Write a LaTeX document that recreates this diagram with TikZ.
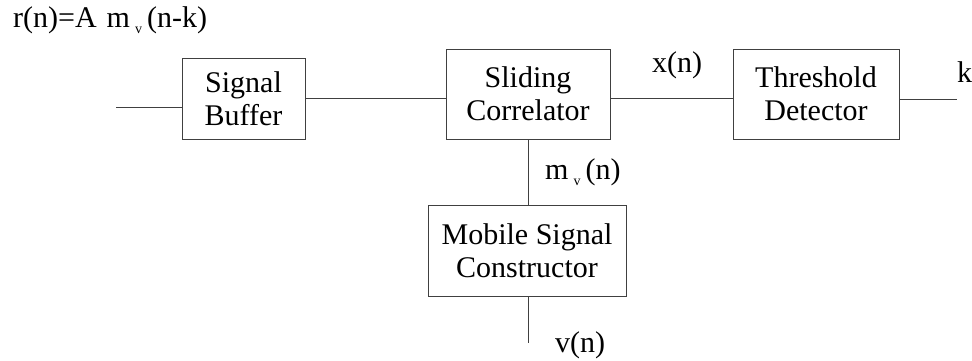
\documentclass[tikz,border=0pt]{standalone}
\usepackage{fontspec}
\setmainfont{Liberation Serif}
\newcommand{\mysubv}{\raisebox{-6pt}{\fontsize{14}{14}\selectfont v}}
\begin{document}
\begin{tikzpicture}[x=1pt,y=-1pt,
  every node/.style={font=\fontsize{30}{33}\selectfont, inner sep=0pt, text=black},
  blk/.style={draw=black!75, line width=1pt, align=center},
  wire/.style={draw=black!75, line width=1pt},
  lbl/.style={anchor=base west}]
\useasboundingbox (0,0) rectangle (972,360);
% blocks
\node[blk, minimum width=123pt, minimum height=81pt] (sb) at (243.5,98.5) {Signal\\Buffer};
\node[blk, minimum width=164pt, minimum height=90pt] (sc) at (528,94) {Sliding\\Correlator};
\node[blk, minimum width=166pt, minimum height=90pt] (td) at (816,94) {Threshold\\Detector};
\node[blk, minimum width=198pt, minimum height=91pt] (ms) at (527,250.5) {Mobile Signal\\Constructor};
% free ends
\coordinate (in) at (116,107);
\coordinate (kend) at (957,99);
\coordinate (vend) at (528,343);
% connectors
\draw[wire] (in) -- (in -| sb.west);
\draw[wire] (sb.east) -- (sb.east -| sc.west);
\draw[wire] (sb.east -| sc.east) -- (sb.east -| td.west);
\draw[wire] (td.east |- kend) -- (kend);
\draw[wire] (sc.south -| vend) -- (ms.north -| vend);
\draw[wire] (ms.south -| vend) -- (vend);
% labels
\node[lbl] (rlab) at (13,27) {r(n)=A\hspace{10pt}m\,\mysubv\,(n-k)};
\node[lbl] (xlab) at (652,72) {x(n)};
\node[lbl] (klab) at (957,82) {k};
\node[lbl] (mlab) at (545,179) {m\,\mysubv\,(n)};
\node[lbl] (vlab) at (555,352) {v(n)};
\end{tikzpicture}
\end{document}
